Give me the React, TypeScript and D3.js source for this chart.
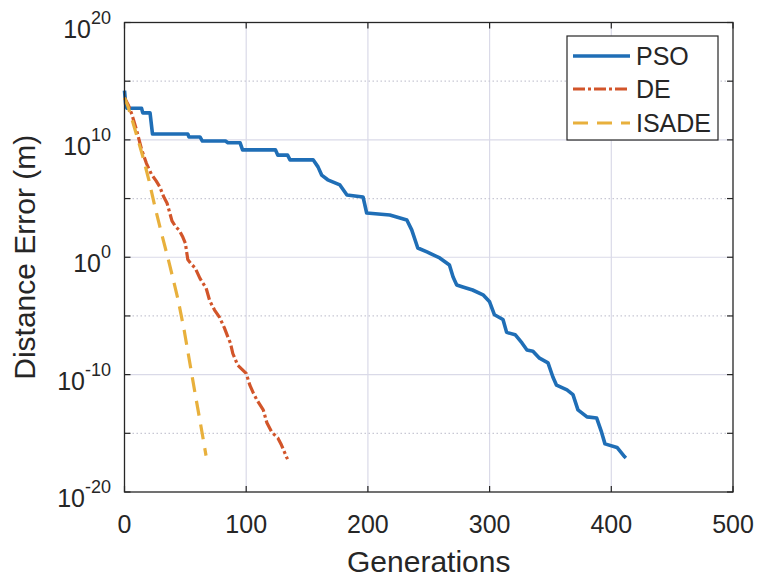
import React from "react";
import * as d3 from "d3";

// Generations and log10(Distance Error)
const psoGen = [0, 1, 2, 14, 15, 21, 23, 52, 53, 62, 64, 83, 85, 95, 97, 124, 126, 134, 136, 155, 159, 162, 167, 177, 182.8, 196, 199, 218, 232, 236, 241, 248.5, 259, 267, 270, 273, 278, 286, 294.6, 300, 304, 311, 314, 321, 326.6, 330.7, 335.6, 341, 348, 352, 355, 363.6, 368.5, 372.6, 380, 388, 392, 394.8, 404.7, 411, 412];
const psoLog = [14.2, 13.0, 12.7, 12.7, 12.3, 12.3, 10.5, 10.5, 10.25, 10.25, 9.9, 9.9, 9.75, 9.75, 9.15, 9.15, 8.7, 8.7, 8.3, 8.3, 7.7, 7.0, 6.6, 6.16, 5.31, 5.14, 3.77, 3.6, 3.18, 2.33, 0.79, 0.45, -0.06, -0.66, -1.68, -2.36, -2.53, -2.79, -3.2, -3.8, -4.9, -5.3, -6.4, -6.6, -7.3, -7.9, -8.0, -8.6, -9.0, -10.2, -10.9, -11.3, -11.7, -13.0, -13.6, -13.7, -14.9, -15.9, -16.2, -17.0, -17.1];

const deGen = [0, 3, 6, 10, 14, 18, 22, 26, 29, 32, 35, 39, 42, 45, 48, 50, 52, 55, 58, 62, 65, 67, 70, 74, 78, 82, 85, 87, 89, 93, 97, 100, 103, 106, 109, 114, 117, 121, 124, 126, 129, 133, 134];
const deLog = [13.6, 13.0, 12.2, 10.8, 9.2, 8.0, 7.1, 6.5, 6.0, 5.2, 4.6, 3.1, 2.6, 2.3, 1.7, 1.2, -0.2, -0.6, -0.9, -1.8, -2.3, -2.6, -3.7, -4.5, -5.1, -6.0, -6.8, -7.3, -8.2, -9.2, -9.6, -9.9, -10.9, -11.6, -12.2, -13.0, -14.1, -14.9, -15.2, -15.4, -16.0, -17.0, -17.2];

const isadeGen = [0, 3, 6, 10, 15, 20, 25, 30, 37, 44, 49, 54, 58, 63, 67];
const isadeLog = [13.6, 12.8, 11.8, 10.4, 8.6, 6.6, 4.3, 2.2, -0.6, -3.6, -6.2, -9.2, -11.6, -14.5, -16.9];

const xTicks = [0, 100, 200, 300, 400, 500];
const yTickExps = [20, 10, 0, -10, -20];
const yMinorExps = [15, 5, -5, -15];
const seriesNames = ["PSO", "DE", "ISADE"];
const seriesColors = ["#1f6eb6", "#d2552a", "#e8b03c"];

const W = 761, H = 583;
const L = 124.5, R = 733, T = 22.5, B = 492;
const FONT = "'Liberation Sans', Arial, Helvetica, sans-serif";
const TXT = "#262626";

export default function App() {
  const x = d3.scaleLinear().domain([0, 500]).range([L, R]);
  const y = d3.scaleLog().domain([1e-20, 1e20]).range([B, T]);
  const line = d3.line<[number, number]>().x(d => x(d[0])).y(d => y(Math.pow(10, d[1])));
  const mk = (g: number[], v: number[]) => g.map((gg, i) => [gg, v[i]] as [number, number]);
  const series = [
    { d: mk(psoGen, psoLog), w: 3.6, dash: "" },
    { d: mk(deGen, deLog), w: 3.2, dash: "12,3,3,3" },
    { d: mk(isadeGen, isadeLog), w: 3.2, dash: "15,9" },
  ];
  const legY = [56, 89, 123];
  return (
    <svg width={W} height={H} style={{ position: "absolute", left: 0, top: 0, background: "#fff" }} fontFamily={FONT}>
      <rect x={0} y={0} width={W} height={H} fill="#fff" />
      {/* grid */}
      {xTicks.slice(1, -1).map(t => (
        <line key={"gx" + t} x1={x(t)} x2={x(t)} y1={T} y2={B} stroke="#dadae8" strokeWidth={1.2} />
      ))}
      {yTickExps.slice(1, -1).map(e => (
        <line key={"gy" + e} x1={L} x2={R} y1={y(Math.pow(10, e))} y2={y(Math.pow(10, e))} stroke="#dadae8" strokeWidth={1.2} />
      ))}
      {yMinorExps.map(e => (
        <line key={"gm" + e} x1={L} x2={R} y1={y(Math.pow(10, e))} y2={y(Math.pow(10, e))} stroke="#c8c8d4" strokeWidth={1.2} strokeDasharray="1.5,2.5" />
      ))}
      {/* series */}
      {series.map((s, i) => (
        <path key={"s" + i} d={line(s.d) || ""} fill="none" stroke={seriesColors[i]} strokeWidth={s.w} strokeDasharray={s.dash} strokeLinejoin="round" />
      ))}
      {/* box */}
      <rect x={L} y={T} width={R - L} height={B - T} fill="none" stroke="#262626" strokeWidth={1.3} />
      {/* ticks */}
      {xTicks.map(t => (
        <g key={"xt" + t}>
          <line x1={x(t)} x2={x(t)} y1={B} y2={B - 6} stroke="#262626" strokeWidth={1.2} />
          <line x1={x(t)} x2={x(t)} y1={T} y2={T + 6} stroke="#262626" strokeWidth={1.2} />
          <text x={x(t)} y={533} textAnchor="middle" fontSize={25} fill={TXT}>{t}</text>
        </g>
      ))}
      {[...yTickExps, ...yMinorExps].map(e => (
        <g key={"yt" + e}>
          <line x1={L} x2={L + 6} y1={y(Math.pow(10, e))} y2={y(Math.pow(10, e))} stroke="#262626" strokeWidth={1.2} />
          <line x1={R} x2={R - 6} y1={y(Math.pow(10, e))} y2={y(Math.pow(10, e))} stroke="#262626" strokeWidth={1.2} />
        </g>
      ))}
      {yTickExps.map(e => (
        <text key={"yl" + e} x={111} y={y(Math.pow(10, e)) + 15} textAnchor="end" fontSize={25} fill={TXT}>
          <tspan>10</tspan>
          <tspan dy={-14} fontSize={18}>{e}</tspan>
        </text>
      ))}
      {/* axis labels */}
      <text x={(L + R) / 2} y={572} textAnchor="middle" fontSize={30} fill={TXT}>Generations</text>
      <text transform={`translate(35,${(T + B) / 2}) rotate(-90)`} textAnchor="middle" fontSize={30} fill={TXT}>Distance Error (m)</text>
      {/* legend */}
      <rect x={567} y={36} width={151} height={104} fill="#fff" stroke="#262626" strokeWidth={1.2} />
      {seriesNames.map((n, i) => (
        <g key={"lg" + n}>
          <line x1={573} x2={630} y1={legY[i]} y2={legY[i]} stroke={seriesColors[i]} strokeWidth={series[i].w} strokeDasharray={series[i].dash} />
          <text x={636} y={legY[i] + 9} fontSize={25} fill={TXT}>{n}</text>
        </g>
      ))}
    </svg>
  );
}
